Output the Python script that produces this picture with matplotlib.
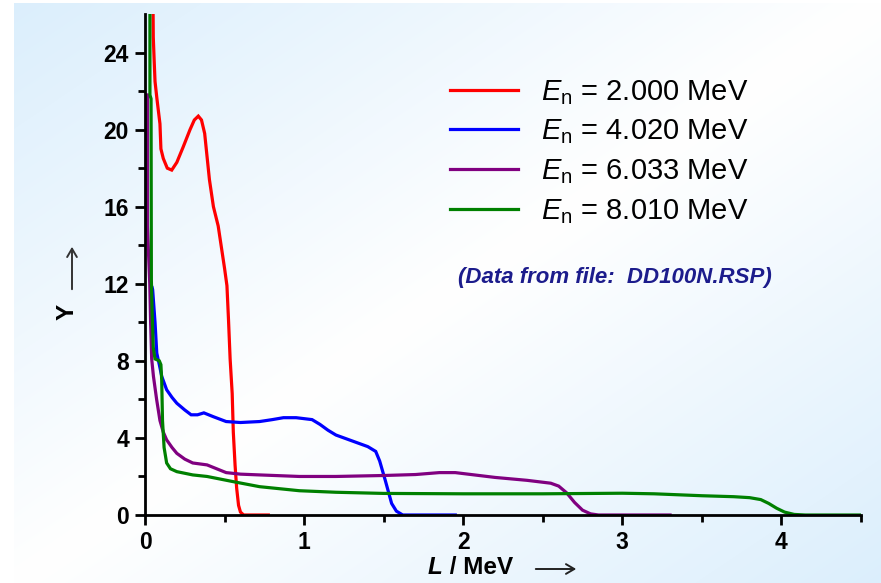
import numpy as np
import matplotlib
matplotlib.use("Agg")
import matplotlib.pyplot as plt
from matplotlib.lines import Line2D
from matplotlib.patches import FancyArrowPatch

plt.rcParams['font.family'] = ['Liberation Sans', 'DejaVu Sans']
plt.rcParams['mathtext.fontset'] = 'custom'
plt.rcParams['mathtext.rm'] = 'Liberation Sans'
plt.rcParams['mathtext.it'] = 'Liberation Sans:italic'

# response functions, light output L (MeV) vs yield Y
L_2000 = [0.050, 0.052, 0.058, 0.063, 0.075, 0.094, 0.100, 0.115, 0.140, 0.168, 0.200, 0.240,
          0.283, 0.310, 0.335, 0.355, 0.375, 0.390, 0.405, 0.430, 0.460, 0.480, 0.500, 0.515,
          0.525, 0.535, 0.548, 0.555, 0.566, 0.576, 0.588, 0.600, 0.620, 0.700, 0.775]
Y_2000 = [27.0, 24.8, 23.5, 22.5, 21.6, 20.3, 19.0, 18.5, 18.0, 17.9, 18.3, 19.1,
          20.0, 20.5, 20.7, 20.5, 19.8, 18.6, 17.4, 16.0, 15.0, 13.9, 12.8, 11.9,
          10.1, 8.1, 6.3, 4.3, 2.6, 1.4, 0.5, 0.15, 0.0, 0.0, 0.0]

L_4020 = [0.045, 0.048, 0.063, 0.074, 0.090, 0.105, 0.136, 0.170, 0.200, 0.250, 0.290, 0.330,
          0.370, 0.400, 0.430, 0.510, 0.600, 0.720, 0.800, 0.870, 0.950, 1.050, 1.100, 1.150,
          1.200, 1.300, 1.400, 1.450, 1.475, 1.510, 1.550, 1.580, 1.620, 1.700, 1.950]
Y_4020 = [11.8, 11.7, 10.0, 8.4, 7.8, 7.2, 6.5, 6.1, 5.8, 5.45, 5.2, 5.2,
          5.3, 5.2, 5.1, 4.85, 4.8, 4.85, 4.95, 5.05, 5.05, 4.95, 4.7, 4.4,
          4.15, 3.85, 3.55, 3.3, 2.8, 1.8, 0.6, 0.2, 0.0, 0.0, 0.0]

L_6033 = [0.015, 0.015, 0.030, 0.035, 0.042, 0.053, 0.073, 0.094, 0.115, 0.136, 0.170, 0.200,
          0.250, 0.300, 0.390, 0.450, 0.510, 0.600, 0.720, 0.970, 1.200, 1.500, 1.700, 1.850,
          1.950, 2.050, 2.200, 2.400, 2.550, 2.600, 2.650, 2.700, 2.750, 2.800, 2.850, 3.300]
Y_6033 = [21.8, 15.0, 12.0, 10.1, 8.1, 7.2, 6.0, 4.9, 4.3, 3.9, 3.5, 3.2,
          2.9, 2.7, 2.6, 2.4, 2.2, 2.12, 2.08, 2.0, 2.0, 2.05, 2.1, 2.2,
          2.2, 2.1, 1.95, 1.8, 1.65, 1.5, 1.15, 0.65, 0.25, 0.06, 0.0, 0.0]

L_8010 = [0.031, 0.031, 0.038, 0.040, 0.045, 0.052, 0.063, 0.090, 0.100, 0.105, 0.110, 0.120,
          0.136, 0.160, 0.200, 0.300, 0.390, 0.555, 0.720, 0.970, 1.200, 1.500, 2.000, 2.500,
          3.000, 3.200, 3.500, 3.700, 3.800, 3.870, 3.920, 3.970, 4.020, 4.080, 4.150, 4.500]
Y_8010 = [27.0, 21.8, 21.6, 12.2, 10.5, 8.7, 8.1, 8.0, 7.8, 7.0, 4.9, 3.5,
          2.7, 2.4, 2.25, 2.08, 2.0, 1.73, 1.47, 1.26, 1.18, 1.12, 1.1, 1.1,
          1.13, 1.1, 1.0, 0.95, 0.9, 0.8, 0.6, 0.35, 0.15, 0.03, 0.0, 0.0]

energies = ['2.000', '4.020', '6.033', '8.010']
colors = ['#ff0000', '#0000ff', '#800080', '#008000']

W, H = 881, 583
fig = plt.figure(figsize=(W / 100, H / 100), dpi=100)

# slide-style background: pale blue in two corners, white across the diagonal
xx, yy = np.meshgrid(np.arange(W), np.arange(H))
t = ((xx - 14) / (W - 14) + (yy - 3) / (H - 3)) / 2
w = np.clip(np.abs(2 * t - 1), 0, 1)
corner = np.array([0.86, 0.935, 0.99])
bg = 1 - w[..., None] * (1 - corner)
bg[:, :14] = 1
bg[:3, :] = 1
bax = fig.add_axes([0, 0, 1, 1], zorder=-1)
bax.imshow(bg, aspect='auto', interpolation='bilinear')
bax.axis('off')

ax = fig.add_axes([145 / W, 1 - 515 / H, (861 - 145) / W, (515 - 14) / H])
ax.set_facecolor('none')

series = [(L_2000, Y_2000), (L_4020, Y_4020), (L_6033, Y_6033), (L_8010, Y_8010)]
for (lx, ly), c in zip(series, colors):
    ax.plot(lx, ly, color=c, lw=2.3, solid_joinstyle='miter')

ax.set_xlim(0, 4.5)
ax.set_ylim(0, 26)
ax.set_xticks([0, 1, 2, 3, 4])
ax.set_xticks(np.arange(0, 4.6, 0.5), minor=True)
ax.set_yticks(np.arange(0, 25, 4))
ax.set_yticks(np.arange(0, 26, 2), minor=True)
for s in ['top', 'right']:
    ax.spines[s].set_visible(False)
for s in ['left', 'bottom']:
    ax.spines[s].set_linewidth(2.0)
ax.tick_params(which='major', direction='out', length=7.5, width=2.0, labelsize=16.5, pad=4)
ax.tick_params(which='minor', direction='out', length=5, width=2.0)
for lab in ax.get_xticklabels() + ax.get_yticklabels():
    lab.set_fontweight('bold')

handles = [Line2D([], [], color=c, lw=2.3) for c in colors]
labels = [r'$E_{\mathrm{n}}$ = ' + e + ' MeV' for e in energies]
ax.legend(handles, labels, loc='upper left', bbox_to_anchor=(450 / W, 1 - 78 / H),
          bbox_transform=fig.transFigure, frameon=False, fontsize=21,
          handlelength=2.33, handletextpad=0.8, labelspacing=0.37, borderpad=0, borderaxespad=0)

fig.text(615 / W, 1 - 278 / H, '(Data from file:  DD100N.RSP)', ha='center', va='center',
         fontsize=16, fontweight='bold', style='italic', color='#1c1c8c')

# axis titles with arrows
renderer = fig.canvas.get_renderer()
tl = fig.text(428 / W, 1 - 568 / H, 'L', ha='left', va='center', fontsize=17.5,
              fontweight='bold', style='italic')
ext = tl.get_window_extent(renderer)
fig.text(ext.x1 / W, 1 - 568 / H, ' / MeV', ha='left', va='center', fontsize=17.5,
         fontweight='bold')
fig.text(67 / W, 1 - 312 / H, 'Y', ha='center', va='center', fontsize=17.5,
         fontweight='bold', rotation=90)
fig.add_artist(FancyArrowPatch(
    (533 / W, 1 - 569 / H), (579 / W, 1 - 569 / H), transform=fig.transFigure,
    arrowstyle='->,head_length=6,head_width=3.5', color='#222222', lw=1.4))
fig.add_artist(FancyArrowPatch(
    (72 / W, 1 - 292 / H), (72 / W, 1 - 244 / H), transform=fig.transFigure,
    arrowstyle='->,head_length=6,head_width=3.5', color='#333333', lw=1.4))

fig.savefig('out.png', dpi=100)
